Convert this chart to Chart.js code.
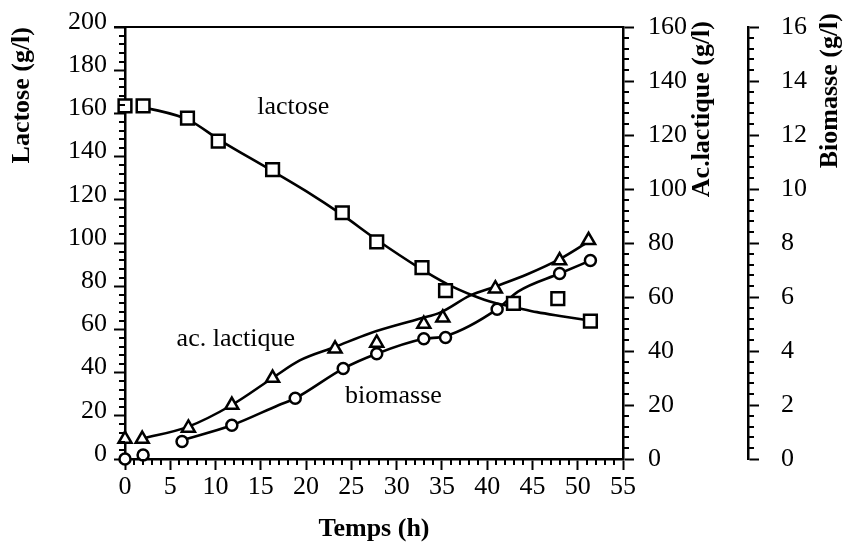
<!DOCTYPE html>
<html>
<head>
<meta charset="utf-8">
<script src="https://cdn.jsdelivr.net/npm/chart.js@4.4.0/dist/chart.umd.min.js"></script>
<style>
  html, body { margin: 0; padding: 0; background: #fff; }
</style>
</head>
<body>
<canvas id="chart" width="846" height="555"></canvas>
<script>
// measured points (symbols)
const lactoseTime = [0, 2, 6.9, 10.3, 16.3, 24, 27.8, 32.8, 35.4, 42.9, 47.8, 51.4];
const lactoseValues = [163.5, 163.5, 157.8, 147.2, 134, 114, 100.5, 88.6, 78, 72, 74.2, 63.8];

const lactiqueTime = [0, 1.9, 7, 11.8, 16.3, 23.2, 27.8, 33, 35.1, 40.9, 48, 51.2];
const lactiqueValues = [7.4, 7.4, 11.5, 20, 30, 40.8, 43, 50, 52.3, 63.1, 73.5, 81];

const biomasseTime = [0, 2, 6.3, 11.8, 18.8, 24.1, 27.8, 33, 35.4, 41.1, 48, 51.4];
const biomasseValues = [0, 0.15, 0.65, 1.25, 2.25, 3.35, 3.9, 4.45, 4.5, 5.55, 6.87, 7.35];

// smoothed curves
const lactoseFitTime = [2, 7, 10.5, 16, 20, 24, 27.8, 32.5, 35.6, 38.5, 40.7, 43, 45.5, 48.4, 51.4];
const lactoseFitValues = [163, 157, 147.5, 134, 124, 113, 101.5, 88.5, 81, 75.6, 72.4, 70.3, 68, 66, 64];

const lactiqueFitTime = [1.9, 7, 11.8, 16.3, 19.3, 23.2, 27, 32.6, 34.8, 38.1, 41, 44.5, 48, 51.2];
const lactiqueFitValues = [7.5, 12, 20, 30, 36.5, 41.5, 46.5, 52, 54.2, 60.5, 64, 68.5, 74, 80.5];

const biomasseFitTime = [6.3, 11.8, 17, 18.8, 24.1, 27.8, 33, 35.4, 41.1, 43.4, 48, 51.4];
const biomasseFitValues = [0.7, 1.25, 2.0, 2.25, 3.35, 3.9, 4.45, 4.55, 5.55, 6.2, 6.87, 7.35];

// in-plot labels (x in hours, y on the lactose axis)
const noteText = ["lactose", "ac. lactique", "biomasse"];
const noteTime = [14.6, 5.7, 24.3];
const noteLevel = [163, 55.5, 29];

const serif = '"Liberation Serif", "Times New Roman", serif';

function pts(xs, ys) {
  return xs.map((t, i) => ({ x: t, y: ys[i] }));
}

// fixed axis widths; the tick label padding must not push the plot down
function fixWidth(w) {
  return (s) => {
    s.width = w;
    s.paddingTop = 0;
    s.paddingBottom = 0;
  };
}

const extras = {
  id: "extras",
  afterDraw(chart) {
    const ctx = chart.ctx;
    const { x, y, y1, y2 } = chart.scales;
    const area = chart.chartArea;
    ctx.save();
    ctx.strokeStyle = "#000";
    ctx.lineWidth = 2;

    // top frame line
    ctx.beginPath();
    ctx.moveTo(area.left - 11, area.top);
    ctx.lineTo(area.right, area.top);
    ctx.stroke();

    // minor ticks
    ctx.beginPath();
    for (let i = 0; i <= 55; i++) {
      if (i % 5 === 0) continue;
      const px = Math.round(x.getPixelForValue(i));
      ctx.moveTo(px, x.top);
      ctx.lineTo(px, x.top + 6);
    }
    for (let i = 0; i <= 50; i++) {
      if (i % 5 === 0) continue;
      const py = Math.round(y.getPixelForValue(i * 4));
      ctx.moveTo(y.right - 6, py);
      ctx.lineTo(y.right, py);
    }
    for (let i = 0; i <= 40; i++) {
      if (i % 5 === 0) continue;
      const py = Math.round(y1.getPixelForValue(i * 4));
      ctx.moveTo(y1.left, py);
      ctx.lineTo(y1.left + 6, py);
      const py2 = Math.round(y2.getPixelForValue(i * 0.4));
      ctx.moveTo(y2.left, py2);
      ctx.lineTo(y2.left + 6, py2);
    }
    ctx.stroke();

    // right axis titles, reading upwards
    ctx.fillStyle = "#000";
    ctx.font = "bold 26px " + serif;
    ctx.textAlign = "right";
    ctx.textBaseline = "middle";
    ctx.save();
    ctx.translate(y1.left + 79, area.top - 6);
    ctx.rotate(-Math.PI / 2);
    ctx.fillText("Ac.lactique (g/l)", 0, 0);
    ctx.restore();
    ctx.save();
    ctx.translate(y2.left + 82, area.top - 14);
    ctx.rotate(-Math.PI / 2);
    ctx.fillText("Biomasse (g/l)", 0, 0);
    ctx.restore();

    // curve names
    ctx.font = "26px " + serif;
    ctx.textAlign = "left";
    noteText.forEach((txt, i) => {
      ctx.fillText(txt, x.getPixelForValue(noteTime[i]), y.getPixelForValue(noteLevel[i]));
    });
    ctx.restore();
  }
};

const axisGrid = {
  drawOnChartArea: false,
  drawTicks: true,
  tickLength: 11,
  tickColor: "#000",
  tickWidth: 2
};
const axisBorder = { display: true, color: "#000", width: 2.5 };
const tickFont = { family: serif, size: 26 };

new Chart(document.getElementById("chart"), {
  type: "scatter",
  data: {
    datasets: [
      {
        data: pts(lactoseTime, lactoseValues),
        yAxisID: "y",
        pointStyle: "rect",
        pointRadius: 9,
        pointBackgroundColor: "#fff",
        pointBorderColor: "#000",
        pointBorderWidth: 2.5,
        showLine: false,
        clip: false,
        order: 0
      },
      {
        data: pts(lactiqueTime, lactiqueValues),
        yAxisID: "y1",
        pointStyle: "triangle",
        pointRadius: 7.5,
        pointBackgroundColor: "#fff",
        pointBorderColor: "#000",
        pointBorderWidth: 2.5,
        showLine: false,
        clip: false,
        order: 0
      },
      {
        data: pts(biomasseTime, biomasseValues),
        yAxisID: "y2",
        pointStyle: "circle",
        pointRadius: 5.5,
        pointBackgroundColor: "#fff",
        pointBorderColor: "#000",
        pointBorderWidth: 2.5,
        showLine: false,
        clip: false,
        order: 0
      },
      {
        data: pts(lactoseFitTime, lactoseFitValues),
        yAxisID: "y",
        showLine: true,
        pointRadius: 0,
        borderColor: "#000",
        borderWidth: 2.6,
        cubicInterpolationMode: "monotone",
        order: 1
      },
      {
        data: pts(lactiqueFitTime, lactiqueFitValues),
        yAxisID: "y1",
        showLine: true,
        pointRadius: 0,
        borderColor: "#000",
        borderWidth: 2.6,
        cubicInterpolationMode: "monotone",
        order: 1
      },
      {
        data: pts(biomasseFitTime, biomasseFitValues),
        yAxisID: "y2",
        showLine: true,
        pointRadius: 0,
        borderColor: "#000",
        borderWidth: 2.6,
        cubicInterpolationMode: "monotone",
        order: 1
      }
    ]
  },
  options: {
    responsive: false,
    animation: false,
    events: [],
    layout: { padding: { top: 27, left: 0, right: 0, bottom: 0 } },
    plugins: { legend: { display: false }, tooltip: { enabled: false } },
    scales: {
      x: {
        type: "linear",
        position: "bottom",
        min: 0,
        max: 55,
        ticks: { stepSize: 5, color: "#000", font: tickFont, padding: 2, maxRotation: 0 },
        grid: axisGrid,
        border: axisBorder,
        title: {
          display: true,
          text: "Temps (h)",
          color: "#000",
          font: { family: serif, size: 26, weight: "bold" },
          padding: { top: 0, bottom: 10 }
        },
        afterFit: (s) => { s.height = 96; }
      },
      y: {
        position: "left",
        min: 0,
        max: 200,
        ticks: { stepSize: 20, color: "#000", font: tickFont, padding: 7, labelOffset: -5 },
        grid: axisGrid,
        border: axisBorder,
        title: {
          display: true,
          text: "Lactose (g/l)",
          align: "end",
          color: "#000",
          font: { family: serif, size: 26, weight: "bold" },
          padding: { top: 7, bottom: 0 }
        },
        afterFit: fixWidth(125)
      },
      y1: {
        position: "right",
        min: 0,
        max: 160,
        ticks: { stepSize: 20, color: "#000", font: tickFont, padding: 14 },
        grid: axisGrid,
        border: axisBorder,
        afterFit: fixWidth(125)
      },
      y2: {
        position: "right",
        min: 0,
        max: 16,
        ticks: { stepSize: 2, color: "#000", font: tickFont, padding: 22 },
        grid: axisGrid,
        border: axisBorder,
        afterFit: fixWidth(98)
      }
    }
  },
  plugins: [extras]
});
</script>
</body>
</html>
